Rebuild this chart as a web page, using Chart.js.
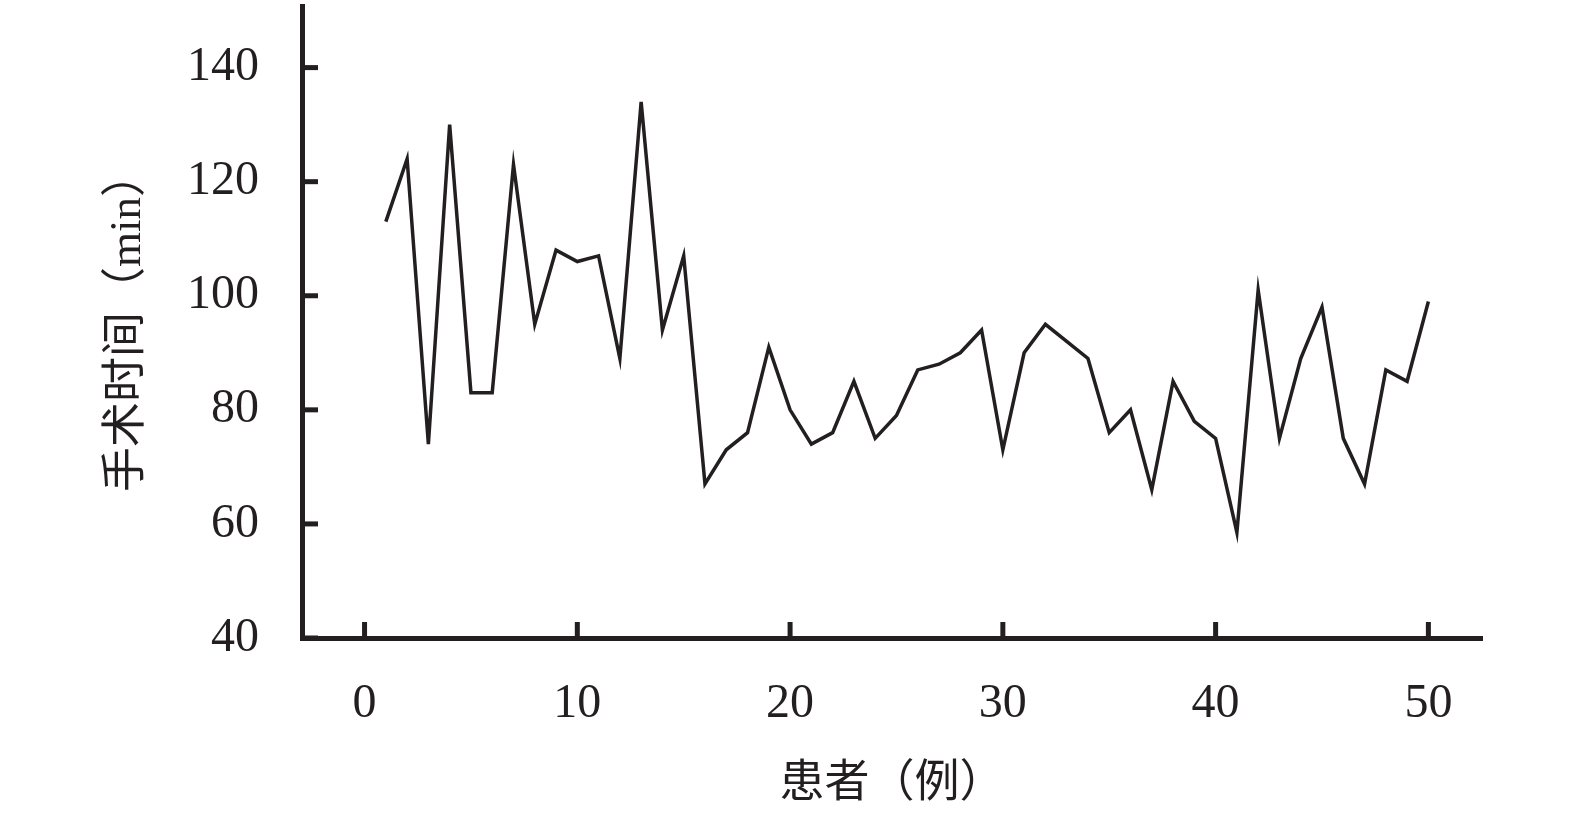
<!DOCTYPE html>
<html><head><meta charset="utf-8">
<script src="https://cdn.jsdelivr.net/npm/chart.js@4/dist/chart.umd.min.js"></script>
<style>html,body{margin:0;padding:0;background:#fff}#wrap{width:1575px;height:823px}</style>
</head><body><div id="wrap"><canvas id="c" width="1575" height="823"></canvas></div>
<script>
const patients = [1,2,3,4,5,6,7,8,9,10,11,12,13,14,15,16,17,18,19,20,21,22,23,24,25,26,27,28,29,30,31,32,33,34,35,36,37,38,39,40,41,42,43,44,45,46,47,48,49,50];
const surgeryTimes = [113,124,74,130,83,83,123,95,108,106,107,89,134,94,107,67,73,76,91,80,74,76,85,75,79,87,88,90,94,73,90,95,92,89,76,80,66,85,78,75,58.5,101,75,89,98,75,67,87,85,99];
const xTicks = [0,10,20,30,40,50];
const yTicks = [40,60,80,100,120,140];
const xTitle = '患者（例）';
const yTitle = '手术时间（min）';

const INK = '#231f20';
const tickFont = {family: "'Liberation Serif', 'DejaVu Serif', serif", size: 48};
const titleFont = {family: "'Liberation Serif', 'Noto Sans CJK SC', serif", size: 45};

const innerTicks = {
  id: 'innerTicks',
  afterDraw(chart) {
    const ctx = chart.ctx, xs = chart.scales.x, ys = chart.scales.y;
    const ca = chart.chartArea;
    ctx.save();
    ctx.strokeStyle = INK;
    ctx.lineWidth = 5;
    ctx.lineCap = 'butt';
    xTicks.forEach(v => {
      const px = xs.getPixelForValue(v);
      ctx.beginPath(); ctx.moveTo(px, ca.bottom); ctx.lineTo(px, ca.bottom - 16); ctx.stroke();
    });
    yTicks.forEach(v => {
      const py = ys.getPixelForValue(v);
      ctx.beginPath(); ctx.moveTo(ca.left, py); ctx.lineTo(ca.left + 16, py); ctx.stroke();
    });
    ctx.restore();
  }
};

new Chart(document.getElementById('c'), {
  type: 'line',
  data: {
    datasets: [{
      data: patients.map((p, i) => ({x: p, y: surgeryTimes[i]})),
      borderColor: INK,
      borderWidth: 3.5,
      pointRadius: 0,
      tension: 0,
      fill: false
    }]
  },
  options: {
    responsive: false,
    devicePixelRatio: 1,
    animation: false,
    layout: {padding: {top: 6, right: 93, left: 0, bottom: 0}},
    plugins: {legend: {display: false}, tooltip: {enabled: false}},
    scales: {
      x: {
        type: 'linear', min: -2.94, max: 52.52,
        afterBuildTicks: s => { s.ticks = xTicks.map(v => ({value: v})); },
        afterFit: s => { s.height = 185; s.paddingLeft = 0; s.paddingRight = 0; },
        grid: {display: false, drawTicks: false},
        border: {display: true, color: INK, width: 5},
        ticks: {color: INK, font: tickFont, padding: 38, maxRotation: 0, autoSkip: false},
        title: {display: true, text: xTitle, color: INK, font: titleFont, padding: {top: 11, bottom: 11}}
      },
      y: {
        type: 'linear', min: 40, max: 150.8,
        afterBuildTicks: s => { s.ticks = yTicks.map(v => ({value: v})); },
        afterFit: s => { s.width = 302; s.paddingTop = 0; s.paddingBottom = 0; },
        grid: {display: false, drawTicks: false},
        border: {display: true, color: INK, width: 5},
        ticks: {color: INK, font: tickFont, padding: 43, autoSkip: false},
        title: {display: true, text: yTitle, color: INK, font: titleFont, padding: {top: 101, bottom: 101}}
      }
    }
  },
  plugins: [innerTicks]
});
</script></body></html>
